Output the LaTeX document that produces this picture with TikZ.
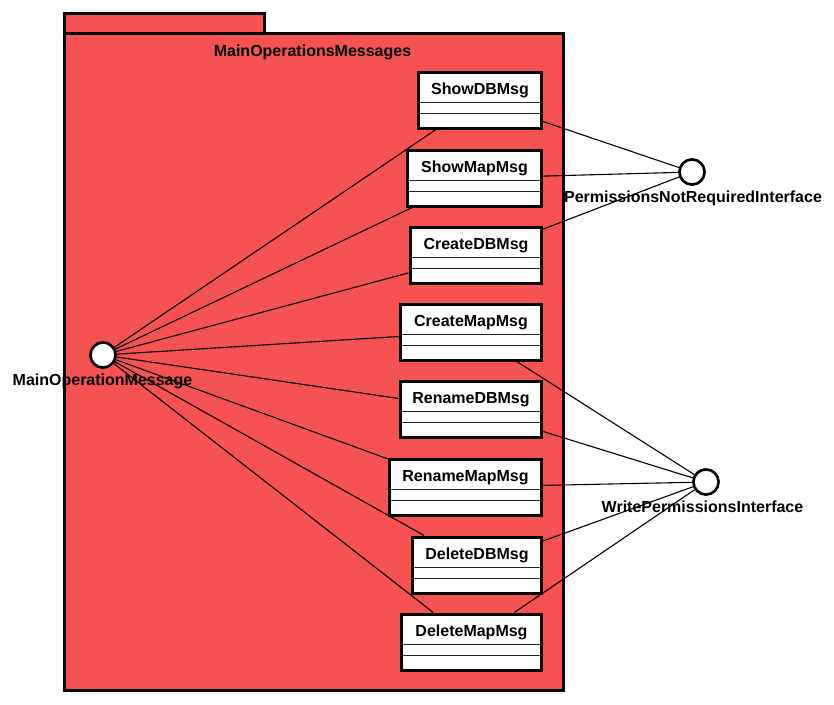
\documentclass[tikz,border=0pt]{standalone}
\usepackage{fontspec}
\setmainfont{Liberation Sans}
\begin{document}
\definecolor{pkgred}{RGB}{246,82,82}
\tikzset{
  pkg/.style={draw=black, fill=pkgred, line width=3pt},
  msgbox/.style={draw=black, fill=white, line width=3pt, inner sep=0pt, rectangle},
  divider/.style={draw=black!85, line width=1pt},
  iface/.style={circle, draw=black, fill=white, line width=2.5pt, minimum size=25pt, inner sep=0pt},
  link/.style={draw=black, line width=1.1pt},
  lbl/.style={font=\fontsize{16}{19}\selectfont\bfseries, inner sep=0pt, anchor=base}
}
% #1 node name, #2 left, #3 top, #4 right, #5 class name
\newcommand\msgclass[5]{%
  \node[msgbox, minimum width={#4-#2}, minimum height=56] (#1) at ({(#2+#4)/2},{#3+28}) {};
  \node[lbl] (#1-name) at ({(#2+#4)/2+0.5},{#3+22.5}) {#5};
  \draw[divider] ({#2+1.5},{#3+30.5}) -- ({#4-1.5},{#3+30.5});
  \draw[divider] ({#2+1.5},{#3+41}) -- ({#4-1.5},{#3+41});
}
\begin{tikzpicture}[x=1pt, y=-1pt]
  \useasboundingbox (0,0) rectangle (834,704);

  % package with its tab
  \draw[pkg] (64,13) rectangle (264,33);
  \draw[pkg] (64,33) rectangle (563,690);
  \node[lbl] (pkgname) at (312.5,56) {MainOperationsMessages};

  % message classes
  \msgclass{showdb}{418}{72}{541}{ShowDBMsg}
  \msgclass{showmap}{407}{150}{541}{ShowMapMsg}
  \msgclass{createdb}{410}{227}{541}{CreateDBMsg}
  \msgclass{createmap}{400}{304}{541}{CreateMapMsg}
  \msgclass{renamedb}{400}{381}{541}{RenameDBMsg}
  \msgclass{renamemap}{389}{459}{541}{RenameMapMsg}
  \msgclass{deletedb}{412}{537}{541}{DeleteDBMsg}
  \msgclass{deletemap}{401}{614}{541}{DeleteMapMsg}

  % interfaces
  \node[iface] (mainmsg) at (103,355) {};
  \node[iface] (nopermit) at (692,172) {};
  \node[iface] (writeperm) at (706,482) {};

  % realisation links
  \foreach \c in {showdb,showmap,createdb,createmap,renamedb,renamemap,deletedb,deletemap}
    \draw[link] (mainmsg) -- (\c);
  \foreach \c in {showdb,showmap,createdb}
    \draw[link] (nopermit) -- (\c);
  \foreach \c in {createmap,renamedb,renamemap,deletedb,deletemap}
    \draw[link] (writeperm) -- (\c);

  % redraw interfaces and labels on top
  \node[iface] at (103,355) {};
  \node[iface] at (692,172) {};
  \node[iface] at (706,482) {};
  \node[lbl] (mainmsg-l) at (102.5,385) {MainOperationMessage};
  \node[lbl] (nopermit-l) at (693,202) {PermissionsNotRequiredInterface};
  \node[lbl] (writeperm-l) at (702.5,512.5) {WritePermissionsInterface};
\end{tikzpicture}
\end{document}
